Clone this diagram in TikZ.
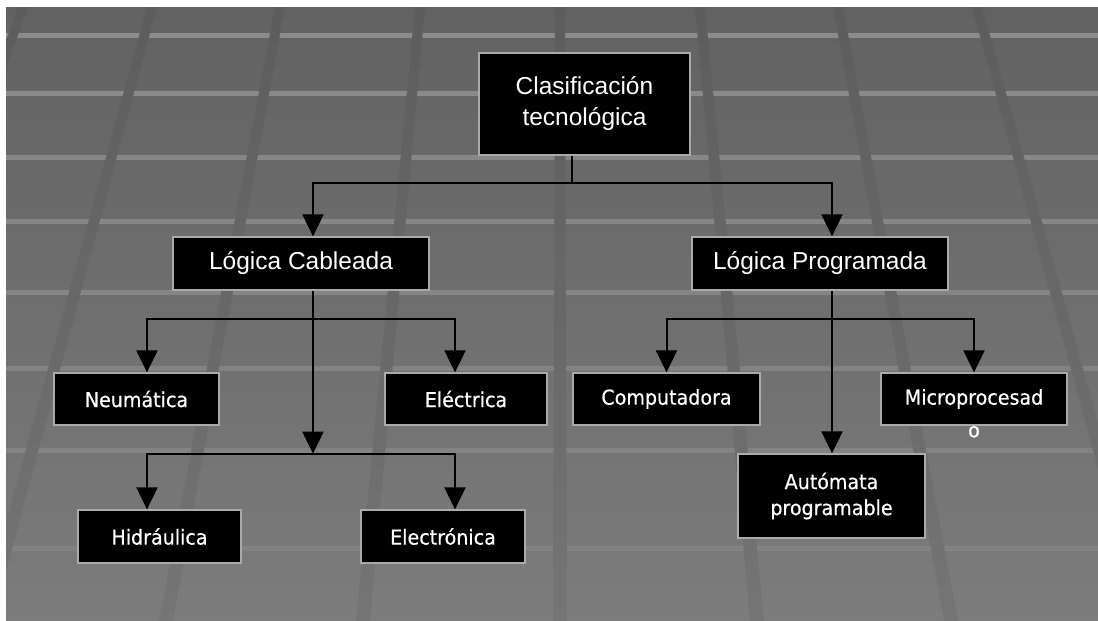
\documentclass[tikz,border=0pt]{standalone}
\usepackage{fontspec}
\setmainfont{Liberation Sans}
\newfontfamily\tahfont{DejaVu Sans}[FakeStretch=0.93,FakeBold=0.5]
\usetikzlibrary{arrows.meta,calc}
\definecolor{bgtop}{RGB}{98,98,98}
\definecolor{bgbot}{RGB}{124,124,124}
\definecolor{glow}{RGB}{170,170,170}
\tikzset{
  box/.style={fill=black, draw=glow, line width=1.3pt, text=white, align=center, inner sep=0pt},
  bigbox/.style={box, font=\fontsize{24.5}{31}\selectfont},
  smallbox/.style={box, font=\tahfont\fontsize{20.5}{26}\selectfont},
  conn/.style={draw=black, line width=2pt},
  arr/.style={conn, -{Triangle[width=21pt,length=22pt]}},
  floorline/.style={fill=white},
  floorstripe/.style={fill=black, fill opacity=0.055},
}
\begin{document}
\begin{tikzpicture}[x=1pt,y=-1pt]
\useasboundingbox (0,0) rectangle (1098,621);
\fill[white] (0,0) rectangle (1098,621);
\shade[top color=bgtop, bottom color=bgbot] (6,7) rectangle (1098,621);
% floor grid
\begin{scope}[even odd rule]
  \clip (6,7) rectangle (1098,621)
    (18,7) -- (28,7) -- (-188.6,621) -- (-202.6,621) -- cycle
    (147,7) -- (157,7) -- (-7.1,621) -- (-21.1,621) -- cycle
    (275,7) -- (285,7) -- (173,621) -- (159,621) -- cycle
    (415,7) -- (425,7) -- (370,621) -- (356,621) -- cycle
    (555,7) -- (565,7) -- (567,621) -- (553,621) -- cycle
    (695,7) -- (705,7) -- (764,621) -- (750,621) -- cycle
    (833,7) -- (843,7) -- (958.1,621) -- (944.1,621) -- cycle
    (972,7) -- (982,7) -- (1153.7,621) -- (1139.7,621) -- cycle;
  \foreach \yy/\op in {35/0.26,93/0.24,157/0.21,221/0.19,292/0.16,368/0.13,450/0.1,548/0.07}
    \fill[floorline, fill opacity=\op] (6,\yy-2) rectangle (1098,\yy+2.5);
\end{scope}
\begin{scope}
  \clip (6,7) rectangle (1098,621);
  \foreach \t/\b in {23/-195.6,152/-14.1,280/166,420/363,560/560,700/757,838/951.1,977/1146.7}
    \fill[floorstripe] (\t-5,7) -- (\t+5,7) -- (\b+7,621) -- (\b-7,621) -- cycle;
\end{scope}
% nodes
\node[bigbox, minimum width=211pt, minimum height=102pt] (clas) at (584.5,104) {Clasificación\\tecnológica};
\node[bigbox, minimum width=256pt, minimum height=53pt] (lcab) at (301,263.5) {Lógica Cableada};
\node[bigbox, minimum width=256pt, minimum height=53pt] (lprog) at (820,263.5) {Lógica Programada};
\node[smallbox, minimum width=165pt, minimum height=52pt] (neum) at (136.5,399) {Neumática};
\node[smallbox, minimum width=162pt, minimum height=52pt] (elec) at (466,399) {Eléctrica};
\node[smallbox, minimum width=163pt, minimum height=53pt] (hidr) at (159.5,536.5) {Hidráulica};
\node[smallbox, minimum width=164pt, minimum height=53pt] (eltr) at (443,536.5) {Electrónica};
\node[smallbox, minimum width=187pt, minimum height=52pt] (comp) at (666.5,399) {Computadora};
\node[smallbox, minimum width=186pt, minimum height=52pt,
      label={[text=white, font=\tahfont\fontsize{20.5}{26}\selectfont, inner sep=0pt]below:o}] (micro) at (974,399) {Microprocesad};
\node[smallbox, minimum width=187pt, minimum height=84pt] (auto) at (831.5,496) {Autómata\\programable};
% connectors
\draw[conn] ([xshift=-12.5pt]clas.south) -- ++(0,27) coordinate (j1);
\draw[arr] (j1) -| ([xshift=12pt]lcab.north);
\draw[arr] (j1) -| ([xshift=12pt]lprog.north);
\draw[conn] ([xshift=12pt]lcab.south) -- ++(0,28) coordinate (j2);
\draw[arr] (j2) -| ([xshift=10.5pt]neum.north);
\draw[arr] (j2) -| ([xshift=-11pt]elec.north);
\draw[arr] (j2) -- ++(0,135) coordinate (j3);
\draw[arr] (j3) -| ([xshift=-12.5pt]hidr.north);
\draw[arr] (j3) -| ([xshift=12pt]eltr.north);
\draw[conn] ([xshift=12pt]lprog.south) -- ++(0,28) coordinate (j4);
\draw[arr] (j4) -| (comp.north);
\draw[arr] (j4) -| (micro.north);
\draw[arr] (j4) -- (j4 |- auto.north);
\end{tikzpicture}
\end{document}
